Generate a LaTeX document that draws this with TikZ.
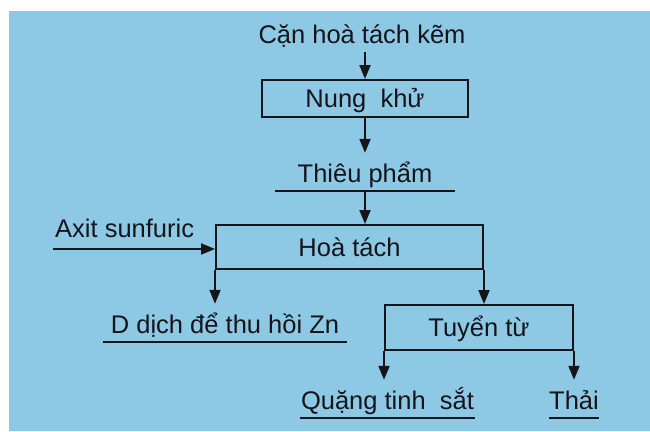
\documentclass[tikz,border=0pt]{standalone}
\usepackage{fontspec}
\setmainfont{Liberation Sans}
\usetikzlibrary{arrows.meta}
\definecolor{bg}{RGB}{141,201,229}
\definecolor{ink}{RGB}{20,20,25}
\begin{document}
\begin{tikzpicture}[x=1pt,y=-1pt,
  font=\fontsize{25.5}{30}\selectfont,
  ln/.style={draw=ink, line width=2pt},
  arr/.style={ln, -{Triangle[length=14pt,width=11pt]}},
  box/.style={ln, inner sep=0pt, text=ink, text height=18pt, text depth=0pt},
  lbl/.style={text=ink, anchor=base, text height=26pt, text depth=6pt, inner ysep=3pt, inner xsep=0pt},
]
\useasboundingbox (0,0) rectangle (650,431);
\fill[bg] (9,11) rectangle (650,431);

\node[lbl] (src) at (362,43) {Cặn hoà tách kẽm};
\node[box, minimum width=206pt, minimum height=37pt] (nk) at (365,98.5) {Nung\ \ khử};
\node[lbl, minimum width=180pt] (tp) at (365,182) {Thiêu phẩm};
\node[box, minimum width=267pt, minimum height=44pt] (ht) at (349.5,247) {Hoà tách};
\node[lbl, anchor=base west] (ax) at (55,237) {Axit sunfuric};
\coordinate (axs) at (53,249);
\node[lbl, minimum width=244pt] (dd) at (225,333) {D dịch để thu hồi Zn};
\node[box, minimum width=188pt, minimum height=45pt] (tt) at (479,327.5) {Tuyển từ};
\node[lbl, minimum width=175pt] (qt) at (387.5,409) {Quặng tinh\ \ sắt};
\node[lbl, minimum width=48pt] (th) at (574,409) {Thải};

\draw[ln] (tp.south west) -- (tp.south east);
\draw[ln] (dd.south west) -- (dd.south east);
\draw[ln] (qt.south west) -- (qt.south east);
\draw[ln] (th.south west) -- (th.south east);

\draw[arr] (src.south -| nk.north) -- (nk.north);
\draw[arr] (nk.south) -- (tp.north);
\draw[arr] (tp.south) -- (tp.south |- ht.north);
\draw[arr] (axs) -- (axs -| ht.west);
\draw[arr] (ht.south west) -- (ht.south west |- dd.north);
\draw[arr] (ht.south east) -- (ht.south east |- tt.north);
\draw[arr] (tt.south west) -- (tt.south west |- qt.north);
\draw[arr] (tt.south east) -- (tt.south east |- th.north);
\end{tikzpicture}
\end{document}
